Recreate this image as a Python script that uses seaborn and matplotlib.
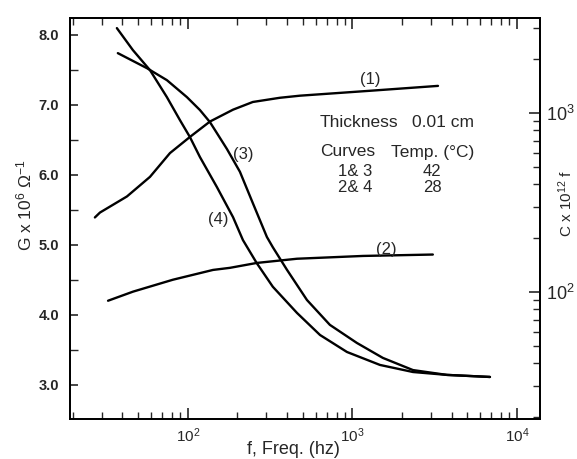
import numpy as np
import pandas as pd
import matplotlib
matplotlib.use("Agg")
import matplotlib.pyplot as plt
import seaborn as sns
from matplotlib.ticker import LogLocator, MultipleLocator, NullFormatter, FixedLocator

# ---- data ----
# Curve (1): G at 42 C (left axis)
f1 = [27.2, 29.2, 42.6, 58.8, 77.8, 102.8, 136, 188, 248, 362, 480, 1276, 3310]
g1 = [5.39, 5.46, 5.69, 5.97, 6.31, 6.54, 6.76, 6.93, 7.04, 7.10, 7.13, 7.20, 7.27]
# Curve (2): G at 28 C (left axis)
f2 = [32.7, 46.4, 81, 142, 180, 262, 460, 1159, 3080]
g2 = [4.20, 4.33, 4.50, 4.64, 4.67, 4.74, 4.80, 4.84, 4.86]
# Curve (3): C at 42 C (right axis)
f3 = [37.5, 56.4, 74.5, 98.6, 118.3, 136, 150, 172.6, 207, 248, 302, 328, 400,
      529, 729, 1064, 1531, 2333, 3750, 6850]
c3 = [2163, 1782, 1528, 1228, 1040, 891, 773, 630, 470, 314, 203, 178, 133,
      90.2, 65.5, 51.9, 42.8, 36.6, 34.4, 33.5]
# Curve (4): C at 28 C (right axis)
f4 = [37.0, 46.3, 58.8, 74.5, 89.4, 102.8, 118.3, 150, 188, 216, 262, 328, 460,
      635, 926, 1470, 2333, 3750, 6850]
c4 = [2985, 2249, 1738, 1228, 914, 735, 568, 386, 262, 195, 145, 107, 76.4,
      57.5, 46.2, 39.1, 35.7, 34.4, 33.5]

curve_labels = ["(1)", "(2)", "(3)", "(4)"]
x_ticks = [1e2, 1e3, 1e4]
x_ticklabels = ["$10^2$", "$10^3$", "$10^4$"]
left_ticks = [3.0, 4.0, 5.0, 6.0, 7.0, 8.0]
right_ticks = [1e2, 1e3]
right_ticklabels = ["$10^2$", "$10^3$"]

sns.set_style("ticks")
plt.rcParams['font.family'] = ['Liberation Sans', 'DejaVu Sans']
plt.rcParams['mathtext.fontset'] = 'custom'
plt.rcParams['mathtext.rm'] = 'Liberation Sans'
plt.rcParams['mathtext.it'] = 'Liberation Sans'

fig = plt.figure(figsize=(5.77, 4.59), dpi=100)
ax = fig.add_axes([70/577, 1-419/459, 470/577, 401/459])

dG = pd.concat([
    pd.DataFrame({"f": f1, "v": g1, "c": "1"}),
    pd.DataFrame({"f": f2, "v": g2, "c": "2"}),
])
dC = pd.concat([
    pd.DataFrame({"f": f3, "v": c3, "c": "3"}),
    pd.DataFrame({"f": f4, "v": c4, "c": "4"}),
])

sns.lineplot(data=dG, x="f", y="v", units="c", estimator=None, color="black",
             lw=1.7, ax=ax, sort=True)
ax.set_xscale("log")
ax.set_xlim(19.2, 13800)
ax.set_ylim(2.51, 8.24)

ax2 = ax.twinx()
sns.lineplot(data=dC, x="f", y="v", units="c", estimator=None, color="black",
             lw=1.7, ax=ax2, sort=True)
ax2.set_yscale("log")
ax2.set_ylim(19.5, 3400)
ax2.set_xlim(19.2, 13800)

for a in (ax, ax2):
    for s in a.spines.values():
        s.set_visible(True)
        s.set_linewidth(1.3)
        s.set_color("black")
    a.set_xlabel("")
    a.set_ylabel("")

# x ticks
ax.xaxis.set_major_locator(FixedLocator(x_ticks))
ax.set_xticklabels(x_ticklabels)
ax.xaxis.set_minor_locator(LogLocator(base=10, subs=np.arange(2, 10)))
ax.xaxis.set_minor_formatter(NullFormatter())
ax.tick_params(axis="x", which="both", direction="in", top=True, bottom=True,
               labelsize=11, pad=5)
ax.tick_params(axis="x", which="major", length=8, width=1.2)
ax.tick_params(axis="x", which="minor", length=5, width=1.0)

# left y ticks
ax.yaxis.set_major_locator(FixedLocator(left_ticks))
ax.set_yticklabels([f"{v:.1f}" for v in left_ticks])
ax.yaxis.set_minor_locator(MultipleLocator(0.5))
ax.tick_params(axis="y", which="both", direction="in", left=True, right=False,
               labelsize=10.5, pad=8)
ax.tick_params(axis="y", which="major", length=6, width=1.2)
ax.tick_params(axis="y", which="minor", length=6, width=1.0)
for t in ax.get_yticklabels():
    t.set_fontweight("bold")

# right y ticks
ax2.yaxis.set_major_locator(FixedLocator(right_ticks))
ax2.set_yticklabels(right_ticklabels)
ax2.yaxis.set_minor_locator(LogLocator(base=10, subs=np.arange(2, 10)))
ax2.yaxis.set_minor_formatter(NullFormatter())
ax2.tick_params(axis="y", which="both", direction="in", right=True, left=False,
                labelsize=13, pad=4)
ax2.tick_params(axis="y", which="major", length=8, width=1.2)
ax2.tick_params(axis="y", which="minor", length=5, width=1.0)
ax2.tick_params(axis="x", which="both", bottom=False, top=False)

# axis labels
fig.text(24/577, 1-205/459, "G x 10$^{6}$ Ω$^{-1}$", rotation=90, ha="center",
         va="center", fontsize=12.5)
fig.text(566/577, 1-203/459, "C x 10$^{12}$ f", rotation=90, ha="center",
         va="center", fontsize=11)
fig.text(293/577, 1-449/459, "f, Freq. (hz)", ha="center", va="center", fontsize=13)

# curve labels (data coordinates of the left axis)
ax.text(1276, 7.36, curve_labels[0], ha="center", va="center", fontsize=12)
ax.text(1600, 4.93, curve_labels[1], ha="center", va="center", fontsize=12)
ax.text(218, 6.29, curve_labels[2], ha="center", va="center", fontsize=12)
ax.text(152, 5.36, curve_labels[3], ha="center", va="center", fontsize=12)

# info block
info_rows = [("Thickness", "0.01 cm"), ("Curves", "Temp. (°C)"),
             ("1& 3", "42"), ("2& 4", "28")]
ys = [123, 152, 171, 188]
for (l, r), yy in zip(info_rows, ys):
    if l.startswith(("1", "2")):
        fig.text(355/577, 1-yy/459, l, ha="center", va="center", fontsize=12)
        fig.text(432/577, 1-yy/459, r, ha="center", va="center", fontsize=12)
    else:
        fig.text(320/577, 1-yy/459, l, ha="left", va="center", fontsize=12.5)
        fig.text(474/577, 1-yy/459, r, ha="right", va="center", fontsize=12.5)

fig.savefig("out.png", dpi=100)
